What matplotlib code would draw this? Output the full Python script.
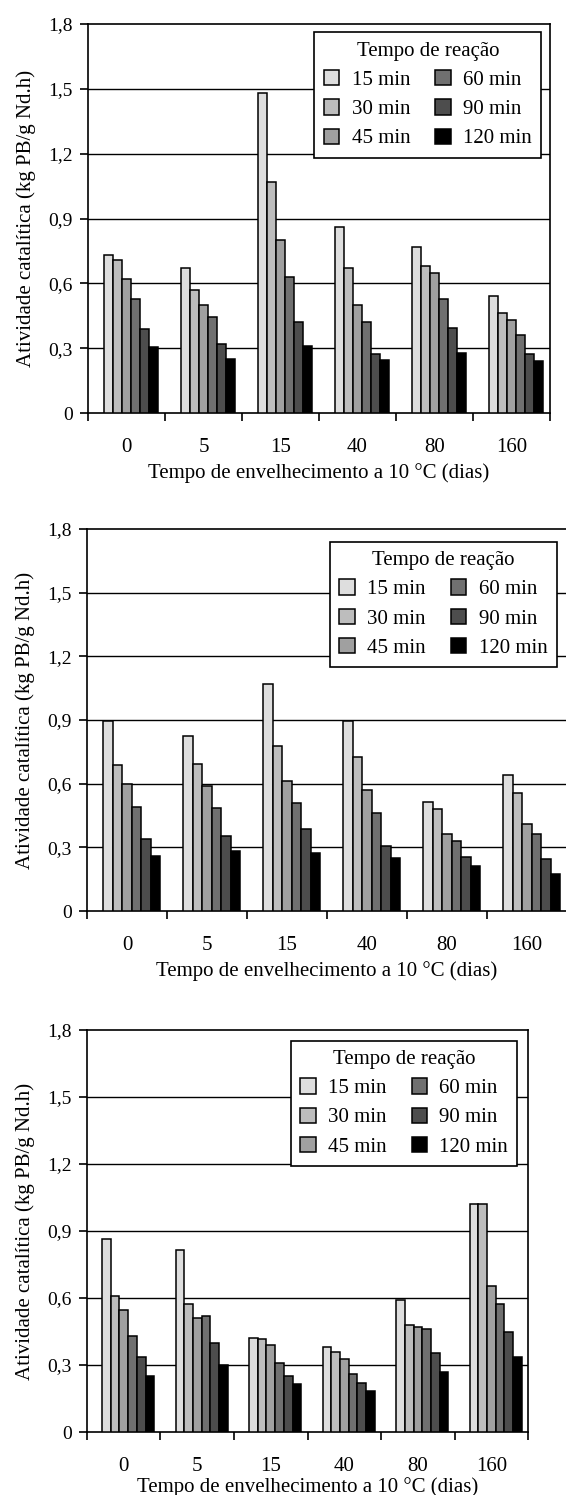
import numpy as np
import matplotlib
matplotlib.use('Agg')
import matplotlib.pyplot as plt

plt.rcParams['font.family'] = ['Liberation Serif', 'DejaVu Serif']
plt.rcParams['font.size'] = 15

dias = ['0', '5', '15', '40', '80', '160']
tempos = ['15 min', '30 min', '45 min', '60 min', '90 min', '120 min']
cores = ['#dedede', '#bdbdbd', '#a0a0a0', '#707070', '#4d4d4d', '#000000']

y_ticks = [0, 0.3, 0.6, 0.9, 1.2, 1.5, 1.8]
y_labels = ['0', '0,3', '0,6', '0,9', '1,2', '1,5', '1,8']

# uma linha por tempo de reação (15, 30, 45, 60, 90, 120 min)
painel_a = [
    [0.73, 0.67, 1.48, 0.86, 0.77, 0.54],
    [0.71, 0.57, 1.07, 0.67, 0.68, 0.465],
    [0.62, 0.50, 0.80, 0.50, 0.65, 0.43],
    [0.53, 0.445, 0.63, 0.42, 0.53, 0.36],
    [0.39, 0.32, 0.42, 0.275, 0.395, 0.275],
    [0.305, 0.25, 0.31, 0.245, 0.28, 0.24],
]
painel_b = [
    [0.895, 0.825, 1.07, 0.895, 0.515, 0.64],
    [0.69, 0.695, 0.78, 0.725, 0.48, 0.555],
    [0.60, 0.59, 0.615, 0.57, 0.365, 0.41],
    [0.49, 0.485, 0.51, 0.46, 0.33, 0.365],
    [0.34, 0.355, 0.385, 0.305, 0.255, 0.245],
    [0.26, 0.285, 0.275, 0.25, 0.21, 0.175],
]
painel_c = [
    [0.865, 0.815, 0.42, 0.38, 0.59, 1.02],
    [0.61, 0.575, 0.415, 0.36, 0.48, 1.02],
    [0.545, 0.51, 0.39, 0.325, 0.47, 0.655],
    [0.43, 0.52, 0.31, 0.26, 0.46, 0.575],
    [0.335, 0.40, 0.25, 0.22, 0.355, 0.45],
    [0.25, 0.30, 0.215, 0.185, 0.27, 0.335],
]


def draw_panel(fig, rect, dados, leg_anchor, xpad=4):
    ax = fig.add_axes(rect)
    x = np.arange(len(dias))
    w = 0.118
    for j, serie in enumerate(dados):
        ax.bar(x + 0.06 + (j - 2.5) * w, serie, width=w, color=cores[j],
               edgecolor='black', linewidth=1.1, label=tempos[j], zorder=3)

    ax.set_xlim(-0.5, len(dias) - 0.5)
    ax.set_ylim(0, 1.8)
    ax.set_yticks(y_ticks)
    ax.set_yticklabels(y_labels, fontsize=14)
    for v in y_ticks[1:-1]:
        ax.axhline(v, color='black', linewidth=1.0, zorder=1)

    ax.set_xticks(np.arange(-0.5, len(dias)), minor=False)
    ax.set_xticklabels([])
    ax.set_xticks(x, minor=True)
    ax.set_xticklabels(dias, minor=True, fontsize=15)
    ax.tick_params(axis='x', which='major', direction='out', length=6, width=1.2)
    ax.tick_params(axis='x', which='minor', length=0, pad=18)
    ax.tick_params(axis='y', direction='out', length=6, width=1.2, pad=5)

    for s in ax.spines.values():
        s.set_linewidth(1.2)

    ax.set_xlabel('Tempo de envelhecimento a 10 °C (dias)', labelpad=xpad)
    ax.set_ylabel('Atividade catalítica (kg PB/g Nd.h)', labelpad=9)

    leg = ax.legend(title='Tempo de reação', ncol=2, loc='upper right',
                    bbox_to_anchor=leg_anchor, borderaxespad=0, fancybox=False,
                    framealpha=1, edgecolor='black', handlelength=0.75,
                    handleheight=0.75, handletextpad=0.58, columnspacing=1.2,
                    labelspacing=0.45, fontsize=15, title_fontsize=15,
                    borderpad=0.45)
    leg.get_frame().set_linewidth(1.2)
    leg.set_zorder(5)
    return ax


fig = plt.figure(figsize=(5.66, 14.95), dpi=100)

draw_panel(fig, [0.1555, 0.7237, 0.8163, 0.2602], painel_a, (0.9805, 0.979))
draw_panel(fig, [0.1537, 0.3906, 0.8480, 0.2555], painel_b, (0.9785, 0.967))
draw_panel(fig, [0.1537, 0.0421, 0.7792, 0.2689], painel_c, (0.976, 0.974), xpad=0.5)

plt.savefig('out.png', dpi=100)
plt.close()
